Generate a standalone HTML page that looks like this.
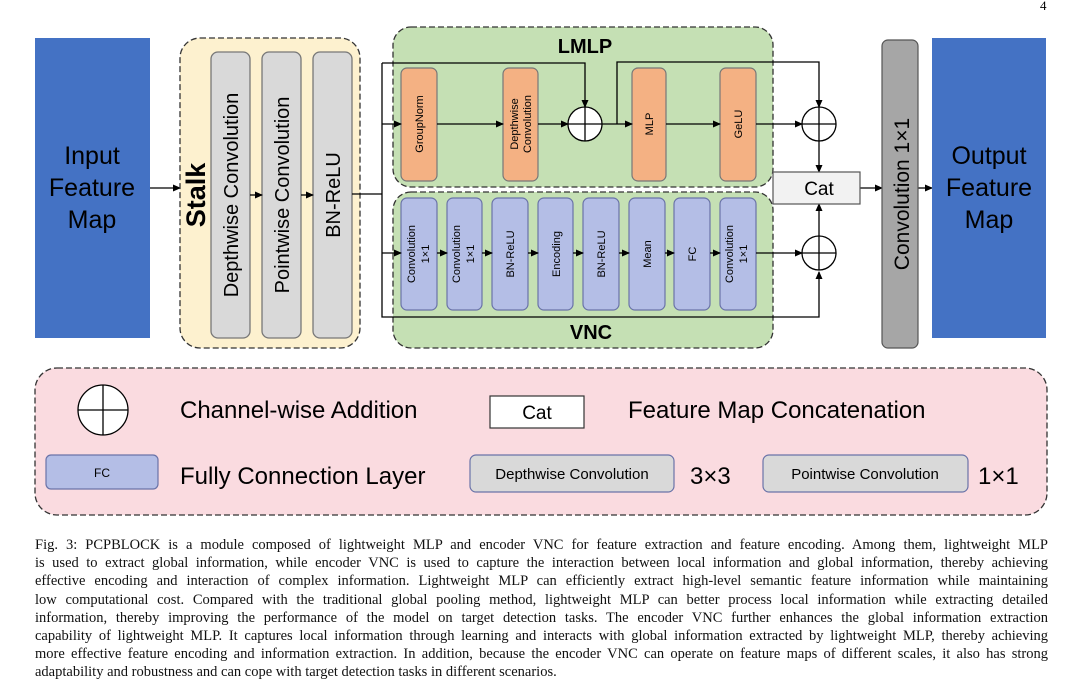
<!DOCTYPE html>
<html><head><style>
body{margin:0;width:1080px;height:696px;background:#fff;position:relative;overflow:hidden;font-family:"Liberation Sans",sans-serif}
.cap{position:absolute;left:35px;top:536px;width:1013px;font-family:"Liberation Serif",serif;font-size:14.5px;line-height:18.2px;color:#111}
.cap div{white-space:nowrap;text-align:justify;text-align-last:justify;width:1013px}
.cap div.l{text-align-last:left}
</style></head><body>
<svg width="1080" height="530" style="position:absolute;left:0;top:0" font-family="Liberation Sans, sans-serif">
<defs><marker id="a" markerWidth="8" markerHeight="8" refX="7" refY="4" orient="auto" markerUnits="userSpaceOnUse"><path d="M0,0.5 L8,4 L0,7.5z" fill="#000"/></marker></defs>
<text x="1040" y="10" font-family="Liberation Serif" font-size="13">4</text>
<rect x="35" y="38" width="115" height="300" fill="#4472c4"/>
<text fill="#000" font-size="25" text-anchor="middle"><tspan x="92" y="164">Input</tspan><tspan x="92" y="196">Feature</tspan><tspan x="92" y="228">Map</tspan></text>
<line x1="150" y1="188" x2="180" y2="188" stroke="#000" stroke-width="1.3" marker-end="url(#a)"/>
<rect x="180" y="38" width="180" height="310" rx="20" fill="#fdf1cf" stroke="#333" stroke-width="1.3" stroke-dasharray="6,3"/>
<text transform="translate(205,195) rotate(-90)" font-size="27" font-weight="bold" text-anchor="middle">Stalk</text>
<g fill="#d9d9d9" stroke="#777" stroke-width="1.3">
<rect x="211" y="52" width="39" height="286" rx="7"/><rect x="262" y="52" width="39" height="286" rx="7"/><rect x="313" y="52" width="39" height="286" rx="7"/></g>
<g font-size="20" text-anchor="middle">
<text transform="translate(238,195) rotate(-90)">Depthwise Convolution</text>
<text transform="translate(289,195) rotate(-90)">Pointwise Convolution</text>
<text transform="translate(340,195) rotate(-90)">BN-ReLU</text></g>
<g stroke="#000" stroke-width="1.3" fill="none">
<line x1="250" y1="195" x2="262" y2="195" marker-end="url(#a)"/>
<line x1="301" y1="195" x2="313" y2="195" marker-end="url(#a)"/>
</g>
<rect x="393" y="27" width="380" height="160" rx="18" fill="#c5e0b4" stroke="#333" stroke-width="1.3" stroke-dasharray="6,3"/>
<rect x="393" y="192" width="380" height="156" rx="18" fill="#c5e0b4" stroke="#333" stroke-width="1.3" stroke-dasharray="6,3"/>
<text x="585" y="53" font-size="20" font-weight="bold" text-anchor="middle">LMLP</text>
<text x="591" y="339" font-size="20" font-weight="bold" text-anchor="middle">VNC</text>
<g fill="#f4b183" stroke="#777" stroke-width="1.2">
<rect x="401" y="68" width="36" height="113" rx="6"/><rect x="503" y="68" width="35" height="113" rx="6"/><rect x="632" y="68" width="34" height="113" rx="6"/><rect x="720" y="68" width="36" height="113" rx="6"/></g>
<g font-size="11" text-anchor="middle">
<text transform="translate(423,124) rotate(-90)">GroupNorm</text>
<text transform="translate(518,124) rotate(-90)">Depthwise</text>
<text transform="translate(531,124) rotate(-90)">Convolution</text>
<text transform="translate(653,124) rotate(-90)">MLP</text>
<text transform="translate(742,124) rotate(-90)">GeLU</text></g>
<g fill="#b4bee6" stroke="#6a73a8" stroke-width="1.2">
<rect x="401" y="198" width="36" height="112" rx="6"/><rect x="447" y="198" width="35" height="112" rx="6"/><rect x="492" y="198" width="36" height="112" rx="6"/><rect x="538" y="198" width="35" height="112" rx="6"/><rect x="583" y="198" width="36" height="112" rx="6"/><rect x="629" y="198" width="36" height="112" rx="6"/><rect x="674" y="198" width="36" height="112" rx="6"/><rect x="720" y="198" width="36" height="112" rx="6"/></g>
<g font-size="11" text-anchor="middle">
<text transform="translate(415,254) rotate(-90)">Convolution</text><text transform="translate(429,254) rotate(-90)">1×1</text>
<text transform="translate(460,254) rotate(-90)">Convolution</text><text transform="translate(474,254) rotate(-90)">1×1</text>
<text transform="translate(514,254) rotate(-90)">BN-ReLU</text>
<text transform="translate(560,254) rotate(-90)">Encoding</text>
<text transform="translate(605,254) rotate(-90)">BN-ReLU</text>
<text transform="translate(651,254) rotate(-90)">Mean</text>
<text transform="translate(696,254) rotate(-90)">FC</text>
<text transform="translate(733,254) rotate(-90)">Convolution</text><text transform="translate(747,254) rotate(-90)">1×1</text></g>
<g stroke="#000" stroke-width="1.3" fill="none">
<line x1="352" y1="194" x2="382" y2="194"/>
<polyline points="382,63 382,317 819,317 819,272" marker-end="url(#a)"/>
<polyline points="382,63 585,63 585,107" marker-end="url(#a)"/>
<line x1="382" y1="124" x2="401" y2="124" marker-end="url(#a)"/>
<line x1="437" y1="124" x2="503" y2="124" marker-end="url(#a)"/>
<line x1="538" y1="124" x2="568" y2="124" marker-end="url(#a)"/>
<line x1="602" y1="124" x2="632" y2="124" marker-end="url(#a)"/>
<polyline points="617,124 617,62 819,62 819,107" marker-end="url(#a)"/>
<line x1="666" y1="124" x2="720" y2="124" marker-end="url(#a)"/>
<line x1="756" y1="124" x2="802" y2="124" marker-end="url(#a)"/>
<line x1="819" y1="141" x2="819" y2="172" marker-end="url(#a)"/>
<line x1="819" y1="236" x2="819" y2="204" marker-end="url(#a)"/>
<line x1="382" y1="253" x2="401" y2="253" marker-end="url(#a)"/>
<line x1="437" y1="253" x2="447" y2="253" marker-end="url(#a)"/>
<line x1="482" y1="253" x2="492" y2="253" marker-end="url(#a)"/>
<line x1="528" y1="253" x2="538" y2="253" marker-end="url(#a)"/>
<line x1="573" y1="253" x2="583" y2="253" marker-end="url(#a)"/>
<line x1="619" y1="253" x2="629" y2="253" marker-end="url(#a)"/>
<line x1="665" y1="253" x2="674" y2="253" marker-end="url(#a)"/>
<line x1="710" y1="253" x2="720" y2="253" marker-end="url(#a)"/>
<line x1="756" y1="253" x2="802" y2="253" marker-end="url(#a)"/>
<line x1="860" y1="188" x2="882" y2="188" marker-end="url(#a)"/>
<line x1="918" y1="188" x2="932" y2="188" marker-end="url(#a)"/>
</g>
<g stroke="#000" stroke-width="1.3" fill="#fff">
<circle cx="585" cy="124" r="17"/><circle cx="819" cy="124" r="17"/><circle cx="819" cy="253" r="17"/></g>
<g stroke="#000" stroke-width="1.3">
<line x1="568" y1="124" x2="602" y2="124"/><line x1="585" y1="107" x2="585" y2="141"/>
<line x1="802" y1="124" x2="836" y2="124"/><line x1="819" y1="107" x2="819" y2="141"/>
<line x1="802" y1="253" x2="836" y2="253"/><line x1="819" y1="236" x2="819" y2="270"/></g>
<rect x="773" y="172" width="87" height="32" fill="#f2f2f2" stroke="#555" stroke-width="1.2"/>
<text x="819" y="195" font-size="19" text-anchor="middle">Cat</text>
<rect x="882" y="40" width="36" height="308" rx="6" fill="#a6a6a6" stroke="#555" stroke-width="1.2"/>
<text transform="translate(909,194) rotate(-90)" font-size="21" text-anchor="middle">Convolution 1×1</text>
<rect x="932" y="38" width="114" height="300" fill="#4472c4"/>
<text fill="#000" font-size="25" text-anchor="middle"><tspan x="989" y="164">Output</tspan><tspan x="989" y="196">Feature</tspan><tspan x="989" y="228">Map</tspan></text>
<rect x="35" y="368" width="1012" height="147" rx="22" fill="#fadbe0" stroke="#333" stroke-width="1.3" stroke-dasharray="6,3"/>
<circle cx="103" cy="410" r="25" fill="#fff" stroke="#000" stroke-width="1.3"/>
<g stroke="#000" stroke-width="1.3"><line x1="78" y1="410" x2="128" y2="410"/><line x1="103" y1="385" x2="103" y2="435"/></g>
<text x="180" y="418" font-size="24">Channel-wise Addition</text>
<rect x="490" y="396" width="94" height="32" fill="#fff" stroke="#333" stroke-width="1.2"/>
<text x="537" y="419" font-size="19" text-anchor="middle">Cat</text>
<text x="628" y="418" font-size="24">Feature Map Concatenation</text>
<rect x="46" y="455" width="112" height="34" rx="5" fill="#b4bee6" stroke="#6a73a8" stroke-width="1.2"/>
<text x="102" y="477" font-size="12" text-anchor="middle">FC</text>
<text x="180" y="484" font-size="24">Fully Connection Layer</text>
<rect x="470" y="455" width="204" height="37" rx="6" fill="#d9d9d9" stroke="#6a73a8" stroke-width="1.2"/>
<text x="572" y="479" font-size="15" text-anchor="middle">Depthwise Convolution</text>
<text x="690" y="484" font-size="24">3×3</text>
<rect x="763" y="455" width="205" height="37" rx="6" fill="#d9d9d9" stroke="#6a73a8" stroke-width="1.2"/>
<text x="865" y="479" font-size="15" text-anchor="middle">Pointwise Convolution</text>
<text x="978" y="484" font-size="24">1×1</text>
</svg>
<div class="cap">
<div>Fig. 3: PCPBLOCK is a module composed of lightweight MLP and encoder VNC for feature extraction and feature encoding. Among them, lightweight MLP</div>
<div>is used to extract global information, while encoder VNC is used to capture the interaction between local information and global information, thereby achieving</div>
<div>effective encoding and interaction of complex information. Lightweight MLP can efficiently extract high-level semantic feature information while maintaining</div>
<div>low computational cost. Compared with the traditional global pooling method, lightweight MLP can better process local information while extracting detailed</div>
<div>information, thereby improving the performance of the model on target detection tasks. The encoder VNC further enhances the global information extraction</div>
<div>capability of lightweight MLP. It captures local information through learning and interacts with global information extracted by lightweight MLP, thereby achieving</div>
<div>more effective feature encoding and information extraction. In addition, because the encoder VNC can operate on feature maps of different scales, it also has strong</div>
<div class="l">adaptability and robustness and can cope with target detection tasks in different scenarios.</div>
</div>
</body></html>
